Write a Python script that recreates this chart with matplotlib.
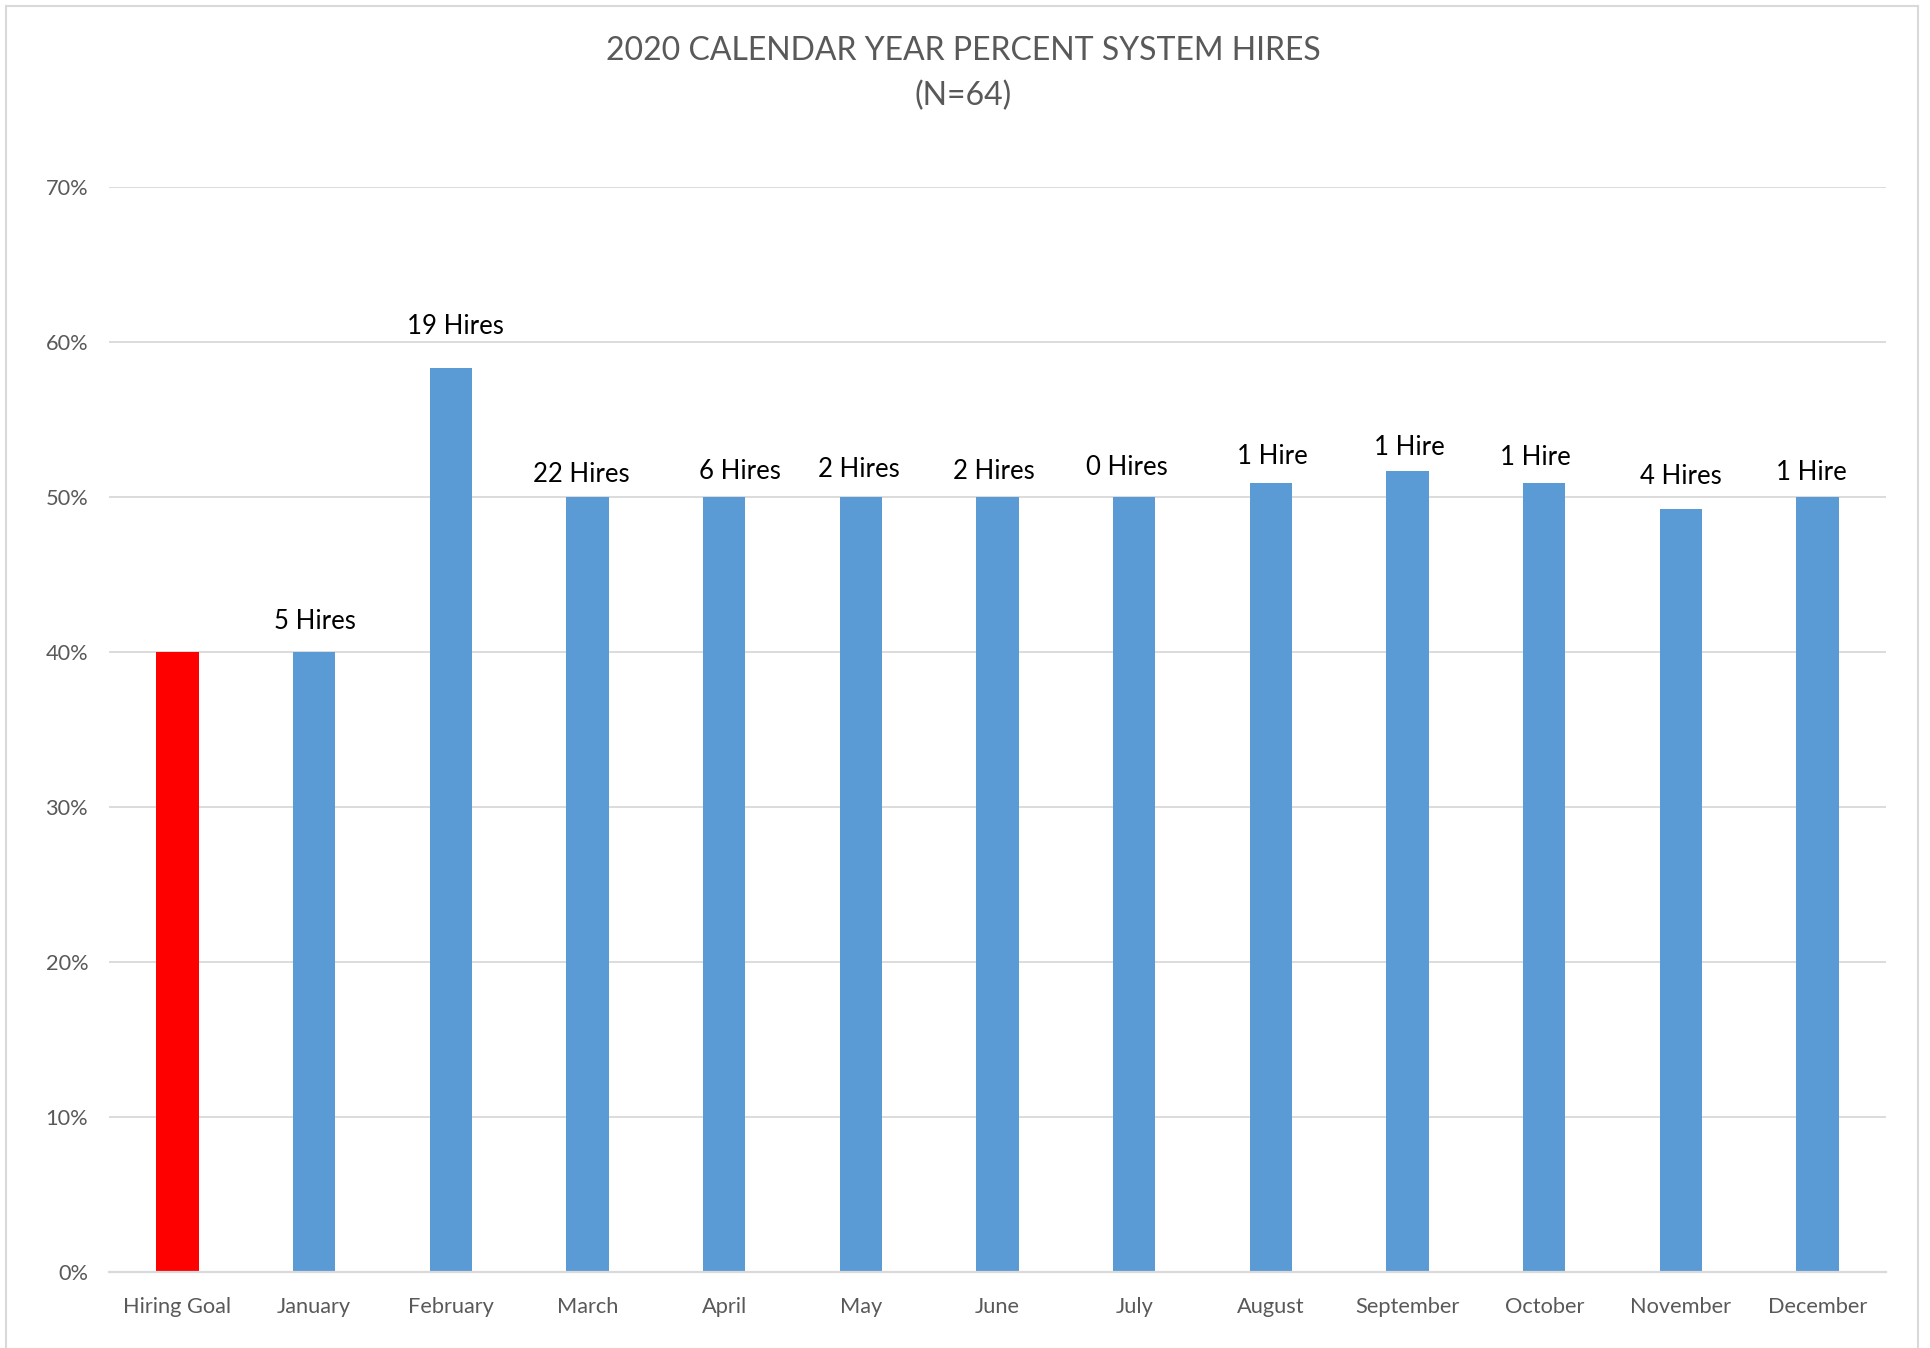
import matplotlib
matplotlib.use("Agg")
import matplotlib.pyplot as plt
from matplotlib.lines import Line2D
from matplotlib.ticker import FuncFormatter, MultipleLocator

# Percent of system hires by month, with the hiring goal as the first bar
categories = ["Hiring Goal", "January", "February", "March", "April", "May", "June",
              "July", "August", "September", "October", "November", "December"]
percent_hires = [40, 40, 58.3, 50, 50, 50, 50, 50, 50.9, 51.7, 50.9, 49.2, 50]
hire_labels = [None, "5 Hires", "19 Hires", "22 Hires", "6 Hires", "2 Hires", "2 Hires",
               "0 Hires", "1 Hire", "1 Hire", "1 Hire", "4 Hires", "1 Hire"]
title_lines = ["2020 CALENDAR YEAR PERCENT SYSTEM HIRES", "(N=64)"]

# Hand placement of each count label relative to its bar top (pixels)
label_dx = [0, 1, 5, -6, 16, -2, -4, -7, 1, 2, -9, 0, -6]
label_dy = [0, 31, 42, 23, 26, 28, 26, 30, 27, 23, 26, 33, 25]

BLUE = "#5B9BD5"
RED = "#FF0000"
GRID = "#D9D9D9"
TEXT_GRAY = "#595959"

plt.rcParams["font.family"] = ["Lato", "DejaVu Sans"]

W, H = 1931, 1348
fig = plt.figure(figsize=(W / 100, H / 100), dpi=100)
fig.patch.set_facecolor("white")

left, right, bottom, top = 109, 1886, 1272, 187
ax = fig.add_axes([left / W, (H - bottom) / H, (right - left) / W, (bottom - top) / H])

colors = [RED] + [BLUE] * (len(categories) - 1)
x = list(range(len(categories)))
ax.bar(x, percent_hires, width=0.31, color=colors, zorder=3)

ax.set_xlim(-0.5, len(categories) - 0.5)
ax.set_ylim(0, 70)
ax.yaxis.set_major_locator(MultipleLocator(10))
ax.yaxis.set_major_formatter(FuncFormatter(lambda v, _: f"{v:.0f}%"))
ax.set_xticks(x)
ax.set_xticklabels(categories)

ax.grid(axis="y", color=GRID, linewidth=1.3, zorder=0)
ax.grid(axis="x", visible=False)
for side in ("top", "right", "left"):
    ax.spines[side].set_visible(False)
ax.spines["bottom"].set_color(GRID)
ax.spines["bottom"].set_linewidth(1.6)
ax.spines["bottom"].set_zorder(4)

ax.tick_params(axis="both", length=0, labelsize=15.7, labelcolor=TEXT_GRAY)
ax.tick_params(axis="x", pad=18)
ax.tick_params(axis="y", pad=15)

for xi, val, lab, dx, dy in zip(x, percent_hires, hire_labels, label_dx, label_dy):
    if lab is None:
        continue
    ax.annotate(lab, xy=(xi, val), xytext=(dx, dy), textcoords="offset pixels",
                ha="center", va="center", fontsize=18.5, color="black", zorder=5)

fig.text(963 / W, 1 - 51 / H, title_lines[0], ha="center", va="center",
         fontsize=23, color=TEXT_GRAY)
fig.text(963 / W, 1 - 96 / H, title_lines[1], ha="center", va="center",
         fontsize=23, color=TEXT_GRAY)

# Chart frame
for xs, ys in [((6 / W, 6 / W), (0, 1 - 6 / H)),
               ((1918 / W, 1918 / W), (0, 1 - 6 / H)),
               ((6 / W, 1918 / W), (1 - 6 / H, 1 - 6 / H))]:
    fig.add_artist(Line2D(xs, ys, color=GRID, linewidth=1.5, transform=fig.transFigure))

fig.savefig("out.png", dpi=100, facecolor="white")
